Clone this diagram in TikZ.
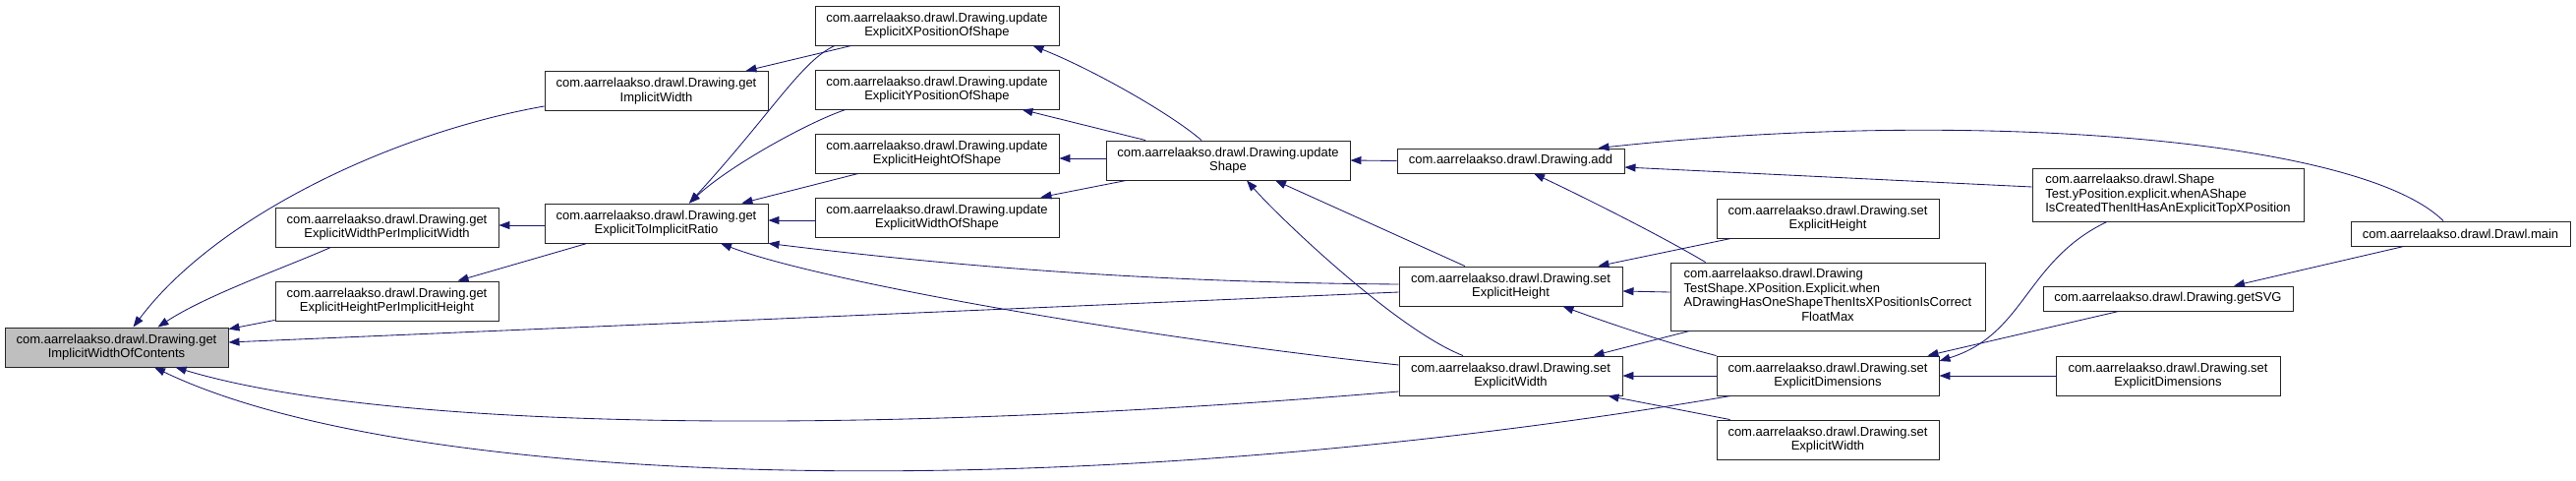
\documentclass[tikz,border=0pt]{standalone}
\usepackage{fontspec}
\setmainfont{Liberation Sans}
\usetikzlibrary{arrows.meta,calc}
\definecolor{edgec}{HTML}{191970}
\definecolor{rootfill}{HTML}{BFBFBF}
\tikzset{
 fn/.style={draw=black!85, line width=0.9pt, fill=white, inner sep=0pt, align=center, font=\fontsize{13}{14.5}\selectfont},
 two/.style={minimum width=227pt, minimum height=40pt},
 upd/.style={minimum width=248pt, minimum height=40pt},
 edge/.style={draw=edgec, line width=0.85pt, -{Triangle[length=11pt,width=8pt]}},
}
\begin{document}
\begin{tikzpicture}[x=1pt,y=-1pt]
\useasboundingbox (0,0) rectangle (2620,489);
\node[fn, two, fill=rootfill] (root) at (118.5,353) {com.aarrelaakso.drawl.Drawing.get\\ImplicitWidthOfContents};
\node[fn, two] (ewpiw) at (393.5,231) {com.aarrelaakso.drawl.Drawing.get\\ExplicitWidthPerImplicitWidth};
\node[fn, two] (ehpih) at (393.5,306) {com.aarrelaakso.drawl.Drawing.get\\ExplicitHeightPerImplicitHeight};
\node[fn, two] (giw) at (667.5,92.5) {com.aarrelaakso.drawl.Drawing.get\\ImplicitWidth};
\node[fn, two] (etir) at (667.5,227) {com.aarrelaakso.drawl.Drawing.get\\ExplicitToImplicitRatio};
\node[fn, upd] (ux) at (953,26) {com.aarrelaakso.drawl.Drawing.update\\ExplicitXPositionOfShape};
\node[fn, upd] (uy) at (953,91) {com.aarrelaakso.drawl.Drawing.update\\ExplicitYPositionOfShape};
\node[fn, upd] (uh) at (953,156) {com.aarrelaakso.drawl.Drawing.update\\ExplicitHeightOfShape};
\node[fn, upd] (uw) at (953,221) {com.aarrelaakso.drawl.Drawing.update\\ExplicitWidthOfShape};
\node[fn, upd] (us) at (1249,163) {com.aarrelaakso.drawl.Drawing.update\\Shape};
\node[fn, minimum width=231pt, minimum height=25pt] (add) at (1536.5,163.5) {com.aarrelaakso.drawl.Drawing.add};
\node[fn, two] (seh1) at (1536.5,291) {com.aarrelaakso.drawl.Drawing.set\\ExplicitHeight};
\node[fn, two] (sew1) at (1536.5,382) {com.aarrelaakso.drawl.Drawing.set\\ExplicitWidth};
\node[fn, minimum width=226pt, minimum height=40pt] (seh2) at (1859,222) {com.aarrelaakso.drawl.Drawing.set\\ExplicitHeight};
\node[fn, minimum width=320pt, minimum height=69pt] (ts) at (1859,301.5) {\begin{tabular}{@{}l@{}}com.aarrelaakso.drawl.Drawing\\TestShape.XPosition.Explicit.when\\ADrawingHasOneShapeThenItsXPositionIsCorrect\\\multicolumn{1}{@{}c@{}}{FloatMax}\end{tabular}};
\node[fn, minimum width=226pt, minimum height=40pt] (sed1) at (1859,382) {com.aarrelaakso.drawl.Drawing.set\\ExplicitDimensions};
\node[fn, minimum width=226pt, minimum height=40pt] (sew2) at (1859,447) {com.aarrelaakso.drawl.Drawing.set\\ExplicitWidth};
\node[fn, align=left, minimum width=276pt, minimum height=54pt] (st) at (2205,198) {com.aarrelaakso.drawl.Shape\\Test.yPosition.explicit.whenAShape\\IsCreatedThenItHasAnExplicitTopXPosition};
\node[fn, minimum width=223pt, minimum height=25pt] (main) at (2502.5,237.5) {com.aarrelaakso.drawl.Drawl.main};
\node[fn, minimum width=254pt, minimum height=25pt] (svg) at (2205,303.5) {com.aarrelaakso.drawl.Drawing.getSVG};
\node[fn, minimum width=228pt, minimum height=40pt] (sed2) at (2205,382) {com.aarrelaakso.drawl.Drawing.set\\ExplicitDimensions};
% edges
\draw[edge] ([yshift=-15.5pt]giw.west) .. controls (400,135) and (220,220) .. ([xshift=17pt]root.north);
\draw[edge] ([xshift=-57pt]ewpiw.south) .. controls (290,272) and (210,300) .. ([xshift=42pt]root.north);
\draw[edge] ([yshift=1pt]ehpih.south west) -- ([yshift=-2pt]root.north east);
\draw[edge] ([yshift=-6pt]seh1.west) -- ([yshift=5pt]root.east);
\draw[edge] ([yshift=-16pt]sew1.west) .. controls (900,442) and (400,440) .. ([xshift=60pt]root.south);
\draw[edge] ([xshift=15pt]sed1.south west) .. controls (1100,515) and (420,500) .. ([xshift=38.5pt]root.south);
\draw[edge] ([yshift=-2pt]etir.west) -- ([yshift=2pt]ewpiw.east);
\draw[edge] ([xshift=-70.5pt]etir.south) -- ([xshift=72pt]ehpih.north);
\draw[edge] ([xshift=-87pt]ux.south) -- ([xshift=-23pt]giw.north east);
\draw[edge] ([xshift=-104pt]ux.south) .. controls (815,62) and (785,115) .. ([xshift=33.5pt]etir.north);
\draw[edge] ([xshift=-93pt]uy.south) .. controls (820,125) and (740,170) .. ([xshift=33.5pt]etir.north);
\draw[edge] ([xshift=-80pt]uh.south) -- ([xshift=-27pt]etir.north east);
\draw[edge] ([yshift=-3pt]uw.west) -- ([yshift=3pt]etir.east);
\draw[edge] ([yshift=2pt]seh1.west) .. controls (1150,287) and (950,268) .. (etir.south east);
\draw[edge] ([yshift=11pt]sew1.west) .. controls (1150,342) and (830,285) .. ([xshift=65.5pt]etir.south);
\draw[edge] ([xshift=-27pt]us.north) .. controls (1190,115) and (1110,70) .. ([xshift=-27pt]ux.south east);
\draw[edge] ([xshift=-84pt]us.north) -- ([xshift=-38pt]uy.south east);
\draw[edge] ([yshift=2pt]us.west) -- ([yshift=-5pt]uh.east);
\draw[edge] ([xshift=21pt]us.south west) -- ([xshift=-19pt]uw.north east);
\draw[edge] (add.west) -- (us.east);
\draw[edge] ([xshift=-46.5pt]seh1.north) -- ([xshift=48pt]us.south);
\draw[edge] ([xshift=-48.5pt]sew1.north) .. controls (1420,335) and (1300,220) .. ([xshift=19pt]us.south);
\draw[edge] ([xshift=-17.5pt]main.north) .. controls (2400,140) and (2000,110) .. ([xshift=-27pt]add.north east);
\draw[edge] ([yshift=8pt]st.west) -- ([yshift=-6.5pt]add.east);
\draw[edge] ([xshift=36pt]ts.north west) .. controls (1690,240) and (1610,200) .. ([xshift=23.5pt]add.south);
\draw[edge] ([yshift=4.5pt]ts.west) -- ([yshift=-5pt]seh1.east);
\draw[edge] ([xshift=20pt]ts.south west) -- ([xshift=-30pt]sew1.north east);
\draw[edge] ([xshift=15pt]seh2.south west) -- ([xshift=-25pt]seh1.north east);
\draw[edge] (sed1.north west) .. controls (1700,350) and (1640,330) .. ([xshift=53pt]seh1.south);
\draw[edge] (sed1.west) -- (sew1.east);
\draw[edge] ([xshift=14pt]sew2.north west) -- ([xshift=-15pt]sew1.south east);
\draw[edge] ([xshift=-62pt]st.south) .. controls (2060,265) and (2060,340) .. ([yshift=15pt]sed1.east);
\draw[edge] ([xshift=-50pt]svg.south) -- ([xshift=-12pt]sed1.north east);
\draw[edge] (sed2.west) -- (sed1.east);
\draw[edge] ([xshift=-57.5pt]main.south) -- ([xshift=67pt]svg.north);
\end{tikzpicture}
\end{document}
